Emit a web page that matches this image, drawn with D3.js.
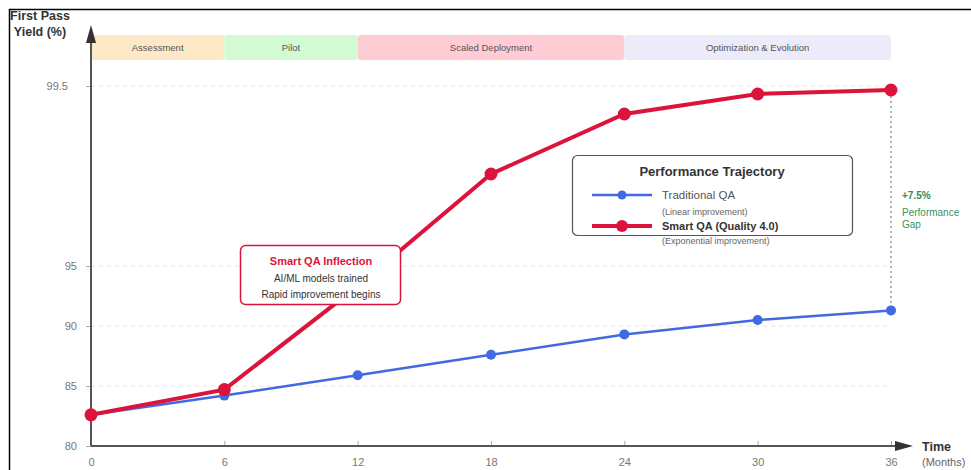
<!DOCTYPE html>
<html lang="en">
<head>
<meta charset="utf-8">
<title>First Pass Yield trajectory</title>
<script src="https://cdn.jsdelivr.net/npm/d3@7"></script>
<style>
  body { margin: 0; background: #fff; }
  svg { display: block; font-family: "Liberation Sans", Arial, sans-serif; }
</style>
</head>
<body>
<script>
// data
const months = [0, 6, 12, 18, 24, 30, 36];
const traditionalQA = [82.6, 84.2, 85.9, 87.6, 89.3, 90.5, 91.3];
const smartQA = [82.6, 84.7, 93.3, 97.3, 98.8, 99.3, 99.4];
const yTicks = [80, 85, 90, 95, 99.5];
const phases = ["Assessment", "Pilot", "Scaled Deployment", "Optimization & Evolution"];
const phaseStart = [0, 6, 12, 24];
const phaseEnd = [6, 12, 24, 36];
const phaseColors = ["#fde8c8", "#d3fbd3", "#ffcbd4", "#ebebf9"];

const width = 971, height = 470;
const svg = d3.select("body").append("svg")
    .attr("width", width).attr("height", height);

// frame (top + left border only)
svg.append("line").attr("x1", 9).attr("x2", width).attr("y1", 9.5).attr("y2", 9.5)
    .attr("stroke", "#000").attr("stroke-width", 1.5);
svg.append("line").attr("x1", 9.5).attr("x2", 9.5).attr("y1", 9).attr("y2", height)
    .attr("stroke", "#000").attr("stroke-width", 1.5);

const x = d3.scaleLinear().domain([0, 36]).range([91, 891]);
// compressed lower part, stretched top part
const y = d3.scaleLinear().domain([80, 95, 99.5]).range([446, 266, 86]);

const defs = svg.append("defs");
defs.append("marker").attr("id", "arrow")
    .attr("viewBox", "0 0 18 10").attr("refX", 0).attr("refY", 5)
    .attr("markerWidth", 18).attr("markerHeight", 10).attr("orient", "auto")
    .attr("markerUnits", "userSpaceOnUse")
  .append("path").attr("d", "M0,0 L18,5 L0,10 z").attr("fill", "#333");

// phase bands
const bands = svg.append("g");
phases.forEach(function(p, i) {
  bands.append("rect")
    .attr("x", x(phaseStart[i])).attr("y", 35)
    .attr("width", x(phaseEnd[i]) - x(phaseStart[i])).attr("height", 25)
    .attr("rx", 3).attr("fill", phaseColors[i]);
  bands.append("text")
    .attr("x", (x(phaseStart[i]) + x(phaseEnd[i])) / 2).attr("y", 51)
    .attr("text-anchor", "middle").attr("font-size", 9.5).attr("fill", "#555")
    .text(p);
});

// grid lines
svg.append("g").selectAll("line").data(yTicks.filter(d => d > 80)).enter()
  .append("line")
    .attr("x1", x(0)).attr("x2", x(36))
    .attr("y1", d => y(d)).attr("y2", d => y(d))
    .attr("stroke", "#e4e4e4").attr("stroke-dasharray", "4,4");

// y axis
const yAxis = d3.axisLeft(y).tickValues(yTicks).tickSize(5).tickPadding(9)
    .tickFormat(d => d === 99.5 ? "99.5" : d);
const gY = svg.append("g").attr("transform", `translate(${x(0)},0)`).call(yAxis);
gY.select(".domain").remove();
gY.selectAll(".tick line").attr("stroke", "#aaa");
gY.selectAll(".tick text").attr("fill", "#777").attr("font-size", 11)
    .attr("dx", d => d === 99.5 ? -9 : 0);

// x axis
const xAxis = d3.axisBottom(x).tickValues(months).tickSize(-5).tickPadding(12);
const gX = svg.append("g").attr("transform", `translate(0,${y(80)})`).call(xAxis);
gX.select(".domain").remove();
gX.selectAll(".tick line").attr("stroke", "#aaa");
gX.selectAll(".tick text").attr("fill", "#777").attr("font-size", 11);

// axis lines with arrows
svg.append("line").attr("x1", x(0)).attr("x2", x(0)).attr("y1", y(80)).attr("y2", 43)
    .attr("stroke", "#555").attr("stroke-width", 2).attr("marker-end", "url(#arrow)");
svg.append("line").attr("x1", x(0)).attr("x2", 895).attr("y1", y(80)).attr("y2", y(80))
    .attr("stroke", "#555").attr("stroke-width", 2).attr("marker-end", "url(#arrow)");

// axis titles
svg.append("text").attr("x", 40).attr("y", 20).attr("text-anchor", "middle")
    .attr("font-size", 12.5).attr("font-weight", "bold").attr("fill", "#333").text("First Pass");
svg.append("text").attr("x", 40).attr("y", 36).attr("text-anchor", "middle")
    .attr("font-size", 12.5).attr("font-weight", "bold").attr("fill", "#333").text("Yield (%)");
svg.append("text").attr("x", 922).attr("y", 451)
    .attr("font-size", 12.5).attr("font-weight", "bold").attr("fill", "#333").text("Time");
svg.append("text").attr("x", 922).attr("y", 466)
    .attr("font-size", 11).attr("fill", "#666").text("(Months)");

// gap indicator
const last = months.length - 1;
svg.append("line")
    .attr("x1", x(36)).attr("x2", x(36))
    .attr("y1", y(smartQA[last]) + 6).attr("y2", y(traditionalQA[last]) - 5)
    .attr("stroke", "#999").attr("stroke-width", 1.5).attr("stroke-dasharray", "2,3");
svg.append("text").attr("x", 902).attr("y", 199)
    .attr("font-size", 10).attr("font-weight", "bold").attr("fill", "#2e8b57").text("+7.5%");
svg.append("text").attr("x", 902).attr("y", 216)
    .attr("font-size", 10).attr("fill", "#3b9162").text("Performance");
svg.append("text").attr("x", 902).attr("y", 228)
    .attr("font-size", 10).attr("fill", "#3b9162").text("Gap");

// lines
const line = d3.line().x((d, i) => x(months[i])).y(d => y(d));
svg.append("path").datum(traditionalQA).attr("d", line)
    .attr("fill", "none").attr("stroke", "#4169e1").attr("stroke-width", 2.5);
svg.append("g").selectAll("circle").data(traditionalQA).enter().append("circle")
    .attr("cx", (d, i) => x(months[i])).attr("cy", d => y(d)).attr("r", 5)
    .attr("fill", "#4169e1");
svg.append("path").datum(smartQA).attr("d", line)
    .attr("fill", "none").attr("stroke", "#dc143c").attr("stroke-width", 4);
svg.append("g").selectAll("circle").data(smartQA).enter().append("circle")
    .attr("cx", (d, i) => x(months[i])).attr("cy", d => y(d)).attr("r", 6.5)
    .attr("fill", "#dc143c");

// inflection callout
const callout = svg.append("g");
callout.append("rect").attr("x", 240.5).attr("y", 245.5).attr("width", 160).attr("height", 59)
    .attr("rx", 5).attr("fill", "#fff").attr("stroke", "#dc143c").attr("stroke-width", 1.5);
callout.append("text").attr("x", 321).attr("y", 265).attr("text-anchor", "middle")
    .attr("font-size", 11).attr("font-weight", "bold").attr("fill", "#dc143c").text("Smart QA Inflection");
callout.append("text").attr("x", 321).attr("y", 282).attr("text-anchor", "middle")
    .attr("font-size", 10).attr("fill", "#333").text("AI/ML models trained");
callout.append("text").attr("x", 321).attr("y", 298).attr("text-anchor", "middle")
    .attr("font-size", 10).attr("fill", "#333").text("Rapid improvement begins");

// legend
const legend = svg.append("g");
legend.append("rect").attr("x", 572.5).attr("y", 155.5).attr("width", 280).attr("height", 80)
    .attr("rx", 5).attr("fill", "#fff").attr("stroke", "#555").attr("stroke-width", 1.2);
legend.append("text").attr("x", 712).attr("y", 176).attr("text-anchor", "middle")
    .attr("font-size", 13).attr("font-weight", "bold").attr("fill", "#333").text("Performance Trajectory");
legend.append("line").attr("x1", 592).attr("x2", 652).attr("y1", 195).attr("y2", 195)
    .attr("stroke", "#4169e1").attr("stroke-width", 2.5);
legend.append("circle").attr("cx", 622).attr("cy", 195).attr("r", 4.5).attr("fill", "#4169e1");
legend.append("text").attr("x", 662).attr("y", 199).attr("font-size", 11.5).attr("fill", "#555").text("Traditional QA");
legend.append("text").attr("x", 662).attr("y", 215).attr("font-size", 9).attr("fill", "#666").text("(Linear improvement)");
legend.append("line").attr("x1", 592).attr("x2", 652).attr("y1", 226).attr("y2", 226)
    .attr("stroke", "#dc143c").attr("stroke-width", 4);
legend.append("circle").attr("cx", 622).attr("cy", 226).attr("r", 6).attr("fill", "#dc143c");
legend.append("text").attr("x", 662).attr("y", 230).attr("font-size", 11).attr("font-weight", "bold")
    .attr("fill", "#333").text("Smart QA (Quality 4.0)");
legend.append("text").attr("x", 662).attr("y", 244).attr("font-size", 9).attr("fill", "#666").text("(Exponential improvement)");
</script>
</body>
</html>
